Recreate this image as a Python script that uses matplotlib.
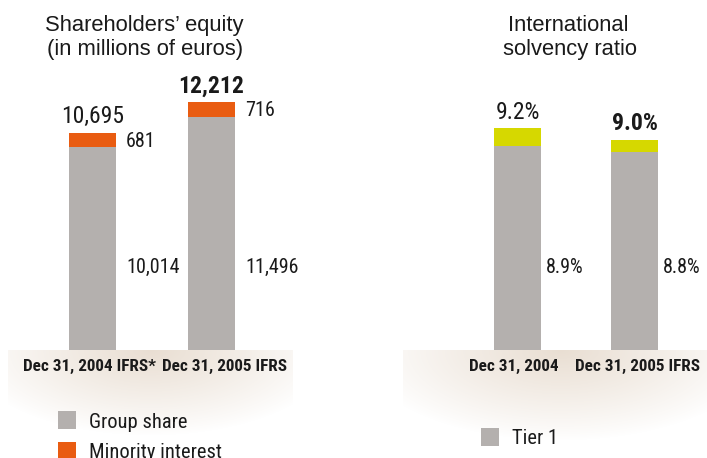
import numpy as np
import matplotlib
import matplotlib.pyplot as plt
from matplotlib.patches import Rectangle

matplotlib.use("Agg")

# --- data -------------------------------------------------------------
equity_dates = ["Dec 31, 2004 IFRS*", "Dec 31, 2005 IFRS"]
group_share = [10014, 11496]
minority_interest = [681, 716]

solvency_dates = ["Dec 31, 2004", "Dec 31, 2005 IFRS"]
tier1 = [8.9, 8.8]
solvency_total = [9.2, 9.0]

GRAY = "#b4b0ae"
ORANGE = "#e95c11"
YELLOW = "#d6d800"
BEIGE = "#e9ded2"
TEXT = "#1a1a1a"

NARROW = ["Roboto Condensed", "Liberation Sans"]
SANS = ["Liberation Sans", "DejaVu Sans"]

W, H = 707, 458
fig = plt.figure(figsize=(W / 100, H / 100), dpi=100)

# full-figure axes in pixel units for background glow, titles and legends
bg = fig.add_axes([0, 0, 1, 1], zorder=0)
bg.set_xlim(0, W)
bg.set_ylim(H, 0)
bg.axis("off")

yy, xx = np.mgrid[0:H, 0:W]
rgba = np.zeros((H, W, 4))
rgba[..., :3] = matplotlib.colors.to_rgb(BEIGE)
for x0, x1, cx, rx, ry in [(8, 292, 150, 185, 85), (403, 707, 560, 200, 90)]:
    r = np.sqrt(((xx - cx) / rx) ** 2 + ((yy - 350) / ry) ** 2)
    a = np.clip(1 - r, 0, 1) ** 0.9
    a[(xx < x0) | (xx > x1) | (yy < 350)] = 0
    rgba[..., 3] = np.maximum(rgba[..., 3], a)
bg.imshow(rgba, extent=(0, W, H, 0), aspect="auto", interpolation="bilinear")

# titles
bg.text(144, 31, "Shareholders’ equity", ha="center", va="baseline",
        fontsize=15.8, family=SANS, color=TEXT)
bg.text(145, 55.5, "(in millions of euros)", ha="center", va="baseline",
        fontsize=15.8, family=SANS, color=TEXT)
bg.text(568, 31, "International", ha="center", va="baseline",
        fontsize=15.8, family=SANS, color=TEXT)
bg.text(570, 55.5, "solvency ratio", ha="center", va="baseline",
        fontsize=15.8, family=SANS, color=TEXT)

# legends
for (x, y, color, label) in [(58, 411, GRAY, "Group share"),
                             (58, 442, ORANGE, "Minority interest"),
                             (481, 428, GRAY, "Tier 1")]:
    bg.add_patch(Rectangle((x, y), 18, 18, color=color, lw=0))
    bg.text(x + 31, y + 16.5, label, ha="left", va="baseline",
            fontsize=14.8, family=NARROW, color=TEXT)


def setup(ax):
    ax.patch.set_alpha(0)
    ax.axis("off")


def label_below(ax, x, text, shift_px):
    ax.annotate(text, xy=(x, 0), xycoords=("data", "axes fraction"),
                xytext=(shift_px * 0.72, -16 * 0.72), textcoords="offset points",
                ha="center", va="center", fontsize=12.3, fontweight="bold",
                family=NARROW, color=TEXT)


# --- left: shareholders' equity ------------------------------------------
axL = fig.add_axes([0, 1 - 350 / H, 304 / W, 350 / H], zorder=1)
setup(axL)
xL = np.arange(len(equity_dates))
wL = 0.396
axL.bar(xL, group_share, wL, color=GRAY, lw=0)
axL.bar(xL, minority_interest, wL, bottom=group_share, color=ORANGE, lw=0)
axL.set_xlim(-0.78, 1.78)
axL.set_ylim(0, 350 / 0.0203)

for i, (g, m) in enumerate(zip(group_share, minority_interest)):
    total = g + m
    bold = i == len(group_share) - 1
    axL.annotate(f"{total:,}", xy=(xL[i], total), xytext=(0, 9.5 * 0.72),
                 textcoords="offset points", ha="center", va="baseline",
                 fontsize=17, fontweight="bold" if bold else "normal",
                 family=NARROW, color=TEXT)
    axL.annotate(f"{m:,}", xy=(xL[i] + wL / 2, g + m / 2),
                 xytext=(10 * 0.72, -7 * 0.72), textcoords="offset points",
                 ha="left", va="baseline", fontsize=14.5, family=NARROW, color=TEXT)
    axL.annotate(f"{g:,}", xy=(xL[i] + wL / 2, 0.22),
                 xycoords=("data", "axes fraction"),
                 xytext=(10 * 0.72, 0), textcoords="offset points",
                 ha="left", va="baseline", fontsize=14.5, family=NARROW, color=TEXT)

for x, text, shift in zip(xL, equity_dates, [-3, 13]):
    label_below(axL, x, text, shift)

# --- right: international solvency ratio ---------------------------------
axR = fig.add_axes([424 / W, 1 - 350 / H, 281 / W, 350 / H], zorder=1)
setup(axR)
xR = np.arange(len(solvency_dates))
wR = 0.40
other = [t - a for t, a in zip(solvency_total, tier1)]
axR.bar(xR, tier1, wR, color=GRAY, lw=0)
axR.bar(xR, other, wR, bottom=tier1, color=YELLOW, lw=0)
axR.set_xlim(-0.8, 1.6)
axR.set_ylim(5.5, 5.5 + 350 / 60)

for i, (t1, tot) in enumerate(zip(tier1, solvency_total)):
    bold = i == len(tier1) - 1
    axR.annotate(f"{tot:.1f}%", xy=(xR[i], tot), xytext=(0, 9.5 * 0.72),
                 textcoords="offset points", ha="center", va="baseline",
                 fontsize=17, fontweight="bold" if bold else "normal",
                 family=NARROW, color=TEXT)
    axR.annotate(f"{t1:.1f}%", xy=(xR[i] + wR / 2, 0.22),
                 xycoords=("data", "axes fraction"),
                 xytext=(5 * 0.72, 0), textcoords="offset points",
                 ha="left", va="baseline", fontsize=14.5, family=NARROW, color=TEXT)

for x, text, shift in zip(xR, solvency_dates, [-4, 3]):
    label_below(axR, x, text, shift)

fig.savefig("out.png", dpi=100)
